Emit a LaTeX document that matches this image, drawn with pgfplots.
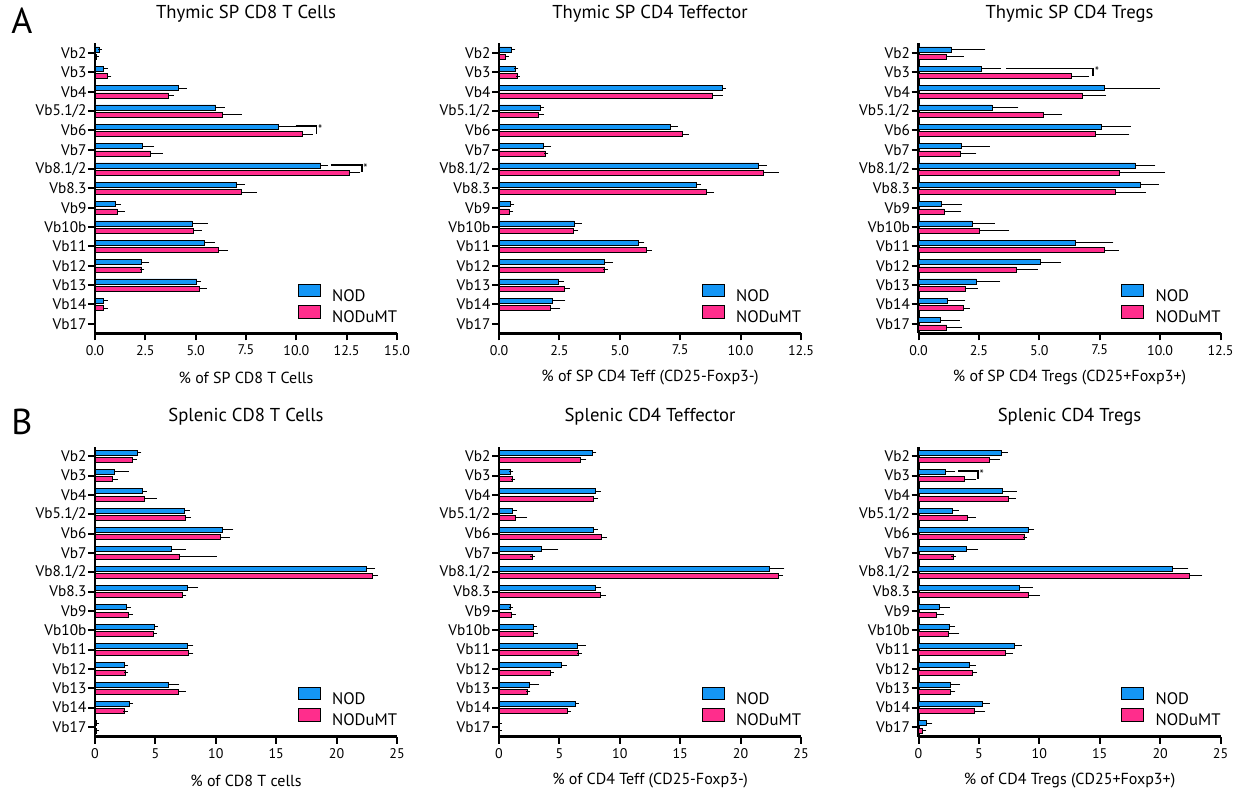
\documentclass[border=0pt]{standalone}
\usepackage{fontspec}
\setmainfont{PT Sans}
\usepackage{pgfplots}
\usepackage{pgfplotstable}
\pgfplotsset{compat=1.18}
\definecolor{nodblue}{RGB}{20,150,245}
\definecolor{mtpink}{RGB}{255,45,140}

% y: Vb2=14 ... Vb17=0 ; columns: value and plus-error
\pgfplotstableread{
y nod nodE mt mtE
14 0.20 0.05 0.08 0.02
13 0.41 0.11 0.61 0.10
12 4.14 0.30 3.65 0.15
11 6.00 0.33 6.35 0.83
10 9.13 0.73 10.29 0.43
9 2.37 0.46 2.77 0.50
8 11.22 0.25 12.65 0.41
7 7.00 0.33 7.29 0.63
6 1.03 0.15 1.11 0.27
5 4.82 0.68 4.91 0.28
4 5.44 0.39 6.13 0.37
3 2.32 0.27 2.32 0.03
2 5.06 0.11 5.19 0.25
1 0.41 0.14 0.43 0.10
0 0.02 0.00 0.02 0.00
}\tAone
\pgfplotstableread{
y nod nodE mt mtE
14 0.51 0.08 0.28 0.05
13 0.68 0.03 0.75 0.03
12 9.23 0.08 8.85 0.33
11 1.71 0.07 1.62 0.16
10 7.11 0.21 7.58 0.18
9 1.85 0.22 1.92 0.04
8 10.75 0.25 10.95 0.54
7 8.19 0.08 8.58 0.24
6 0.47 0.08 0.41 0.09
5 3.11 0.22 3.08 0.12
4 5.78 0.15 6.11 0.13
3 4.37 0.24 4.38 0.03
2 2.46 0.15 2.72 0.12
1 2.20 0.46 2.12 0.33
0 0.02 0.00 0.02 0.00
}\tAtwo
\pgfplotstableread{
y nod nodE mt mtE
14 1.34 1.34 1.16 0.62
13 2.59 0.74 6.32 0.65
12 7.69 2.20 6.78 0.90
11 3.04 1.00 5.15 0.70
10 7.57 1.12 7.32 1.32
9 1.76 1.10 1.73 0.57
8 8.96 0.75 8.31 1.81
7 9.18 0.68 8.16 1.15
6 0.94 0.76 1.05 0.62
5 2.21 0.86 2.53 1.14
4 6.49 1.49 7.69 0.51
3 5.06 0.75 4.05 0.79
2 2.39 0.90 1.92 0.45
1 1.18 0.67 1.85 0.18
0 0.89 0.73 1.16 0.53
}\tAthree
\pgfplotstableread{
y nod nodE mt mtE
14 3.54 0.13 3.12 0.14
13 1.63 0.97 1.44 0.30
12 3.90 0.19 4.06 0.86
11 7.38 0.27 7.51 0.28
10 10.55 0.72 10.39 0.60
9 6.30 1.05 7.02 2.87
8 22.49 0.52 22.98 0.28
7 7.68 0.69 7.27 0.11
6 2.62 0.20 2.79 0.14
5 4.89 0.14 4.86 0.08
4 7.68 0.28 7.76 0.20
3 2.46 0.08 2.51 0.06
2 6.10 0.70 6.93 0.39
1 2.85 0.13 2.46 0.06
0 0.14 0.03 0.14 0.03
}\tBone
\pgfplotstableread{
y nod nodE mt mtE
14 7.74 0.14 6.72 0.33
13 0.91 0.11 1.08 0.08
12 8.02 0.22 7.80 0.22
11 1.08 0.25 1.36 0.80
10 7.83 0.16 8.46 0.31
9 3.51 1.22 2.74 0.03
8 22.40 1.05 23.15 0.19
7 8.02 0.28 8.38 0.30
6 0.97 0.03 1.02 0.17
5 2.88 0.08 2.85 0.19
4 6.50 0.52 6.61 0.05
3 5.17 0.28 4.23 0.14
2 2.49 0.66 2.35 0.08
1 6.33 0.11 5.67 0.11
0 0.05 0.02 0.05 0.02
}\tBtwo
\pgfplotstableread{
y nod nodE mt mtE
14 6.89 0.30 5.84 0.71
13 2.24 0.64 3.82 0.72
12 6.91 1.03 7.47 0.38
11 2.82 0.36 4.07 0.47
10 9.07 0.33 8.74 0.05
9 3.95 0.81 2.85 0.05
8 21.02 1.13 22.43 0.88
7 8.38 0.91 9.13 0.74
6 1.74 0.67 1.49 0.45
5 2.57 0.28 2.49 0.72
4 7.91 0.47 7.22 0.41
3 4.23 0.33 4.42 0.25
2 2.65 0.61 2.63 0.25
1 5.25 0.47 4.65 0.69
0 0.64 0.33 0.36 0.11
}\tBthree

\pgfplotsset{
  vb/.style={
    scale only axis, width=226.5pt, height=217.5pt,
    anchor=north west, clip=false,
    xbar, bar width=0.26,
    ymin=-0.5, ymax=14.5, xmin=0,
    axis x line*=bottom, axis y line*=left,
    axis line style={-, line width=2pt},
    ytick={0,...,14},
    yticklabels={Vb17,Vb14,Vb13,Vb12,Vb11,Vb10b,Vb9,Vb8.3,Vb8.1/2,Vb7,Vb6,Vb5.1/2,Vb4,Vb3,Vb2},
    tick align=outside, major tick length=5.25pt,
    tick style={line width=1.5pt, black},
    yticklabel style={font=\fontsize{11.5}{13}\selectfont, inner sep=1pt},
    xticklabel style={font=\fontsize{10.5}{12}\selectfont},
    scaled x ticks=false,
    title style={at={(0.5,1)}, anchor=center, yshift=16.5pt, font=\fontsize{14}{16}\selectfont},
    xlabel style={at={(axis description cs:0.5,0)}, anchor=center, yshift=-33pt, font=\fontsize{12}{14}\selectfont},
    legend style={at={(axis description cs:0.672,0.03)}, anchor=south west,
      draw=none, fill=none, inner sep=0pt, outer sep=0pt, row sep=1.6pt,
      font=\fontsize{12.5}{14}\selectfont, nodes={inner sep=0pt},
      /tikz/every odd column/.style={column sep=8.5pt}},
    legend cell align=left,
    legend image code/.code={\draw[##1, line width=0.6pt] (0pt,-0.3pt) rectangle (16.5pt,9.1pt);},
  },
  fmtA/.style={xticklabel style={/pgf/number format/.cd, fixed, fixed zerofill, precision=1, assume math mode=true}},
  fmtB/.style={xticklabel style={/pgf/number format/.cd, fixed, precision=0, assume math mode=true}},
  nodbar/.style={fill=nodblue, draw=black, line width=0.6pt, bar shift=0.19,
    error bars/.cd, x dir=plus, x explicit,
    error bar style={line width=0.6pt, black},
    error mark options={black, line width=0.6pt, mark size=1.6pt}},
  mtbar/.style={fill=mtpink, draw=black, line width=0.6pt, bar shift=-0.19,
    error bars/.cd, x dir=plus, x explicit,
    error bar style={line width=0.6pt, black},
    error mark options={black, line width=0.6pt, mark size=1.6pt}},
}

\begin{document}
\begin{tikzpicture}
\useasboundingbox (0,0) rectangle (933pt,-594.75pt);
\node[font=\fontsize{27}{30}\selectfont] at (16.5pt,-15.6pt) {A};
\node[font=\fontsize{27}{30}\selectfont] at (16.5pt,-316.5pt) {B};

% ---------- A1
\begin{axis}[vb, fmtA, at={(71.25pt,-32.6pt)}, xmax=15, xtick={0,2.5,...,15},
  title={Thymic SP CD8 T Cells}, xlabel={\% of SP CD8 T Cells}]
\addplot[nodbar] table[x=nod, y=y, x error=nodE] {\tAone};
\addplot[mtbar] table[x=mt, y=y, x error=mtE] {\tAone};
\legend{NOD,NODuMT}
\draw[line width=1.3pt] (axis cs:9.97,10.23) -- (axis cs:11.0,10.23) -- (axis cs:11.0,9.83);
\node[anchor=west, font=\fontsize{9}{9}\selectfont, inner sep=1pt] at (axis cs:11.0,10.05) {*};
\draw[line width=1.3pt] (axis cs:11.72,8.23) -- (axis cs:13.25,8.23) -- (axis cs:13.25,7.83);
\node[anchor=west, font=\fontsize{9}{9}\selectfont, inner sep=1pt] at (axis cs:13.25,8.05) {*};
\end{axis}

% ---------- A2
\begin{axis}[vb, fmtA, at={(374.25pt,-32.6pt)}, xmax=12.5, xtick={0,2.5,...,12.5},
  title={Thymic SP CD4 Teffector}, xlabel={\% of SP CD4 Teff (CD25-Foxp3-)}]
\addplot[nodbar] table[x=nod, y=y, x error=nodE] {\tAtwo};
\addplot[mtbar] table[x=mt, y=y, x error=mtE] {\tAtwo};
\legend{NOD,NODuMT}
\end{axis}

% ---------- A3
\begin{axis}[vb, fmtA, at={(688.9pt,-32.6pt)}, xmax=12.5, xtick={0,2.5,...,12.5},
  title={Thymic SP CD4 Tregs}, xlabel={\% of SP CD4 Tregs (CD25+Foxp3+)}]
\addplot[nodbar] table[x=nod, y=y, x error=nodE] {\tAthree};
\addplot[mtbar] table[x=mt, y=y, x error=mtE] {\tAthree};
\legend{NOD,NODuMT}
\draw[line width=1.3pt] (axis cs:3.63,13.21) -- (axis cs:7.23,13.21) -- (axis cs:7.23,12.84);
\node[anchor=west, font=\fontsize{9}{9}\selectfont, inner sep=1pt] at (axis cs:7.23,13.05) {*};
\end{axis}

% ---------- B1
\begin{axis}[vb, fmtB, at={(71.25pt,-334.9pt)}, xmax=25, xtick={0,5,...,25},
  title={Splenic CD8 T Cells}, xlabel={\% of CD8 T cells}]
\addplot[nodbar] table[x=nod, y=y, x error=nodE] {\tBone};
\addplot[mtbar] table[x=mt, y=y, x error=mtE] {\tBone};
\legend{NOD,NODuMT}
\end{axis}

% ---------- B2
\begin{axis}[vb, fmtB, at={(374.25pt,-334.9pt)}, xmax=25, xtick={0,5,...,25},
  title={Splenic CD4 Teffector}, xlabel={\% of CD4 Teff (CD25-Foxp3-)}]
\addplot[nodbar] table[x=nod, y=y, x error=nodE] {\tBtwo};
\addplot[mtbar] table[x=mt, y=y, x error=mtE] {\tBtwo};
\legend{NOD,NODuMT}
\end{axis}

% ---------- B3
\begin{axis}[vb, fmtB, at={(688.9pt,-334.9pt)}, xmax=25, xtick={0,5,...,25},
  title={Splenic CD4 Tregs}, xlabel={\% of CD4 Tregs (CD25+Foxp3+)}]
\addplot[nodbar] table[x=nod, y=y, x error=nodE] {\tBthree};
\addplot[mtbar] table[x=mt, y=y, x error=mtE] {\tBthree};
\legend{NOD,NODuMT}
\draw[line width=1.3pt] (axis cs:3.27,13.22) -- (axis cs:4.93,13.22) -- (axis cs:4.93,12.8);
\node[anchor=west, font=\fontsize{9}{9}\selectfont, inner sep=1pt] at (axis cs:4.93,13.05) {*};
\end{axis}
\end{tikzpicture}
\end{document}
